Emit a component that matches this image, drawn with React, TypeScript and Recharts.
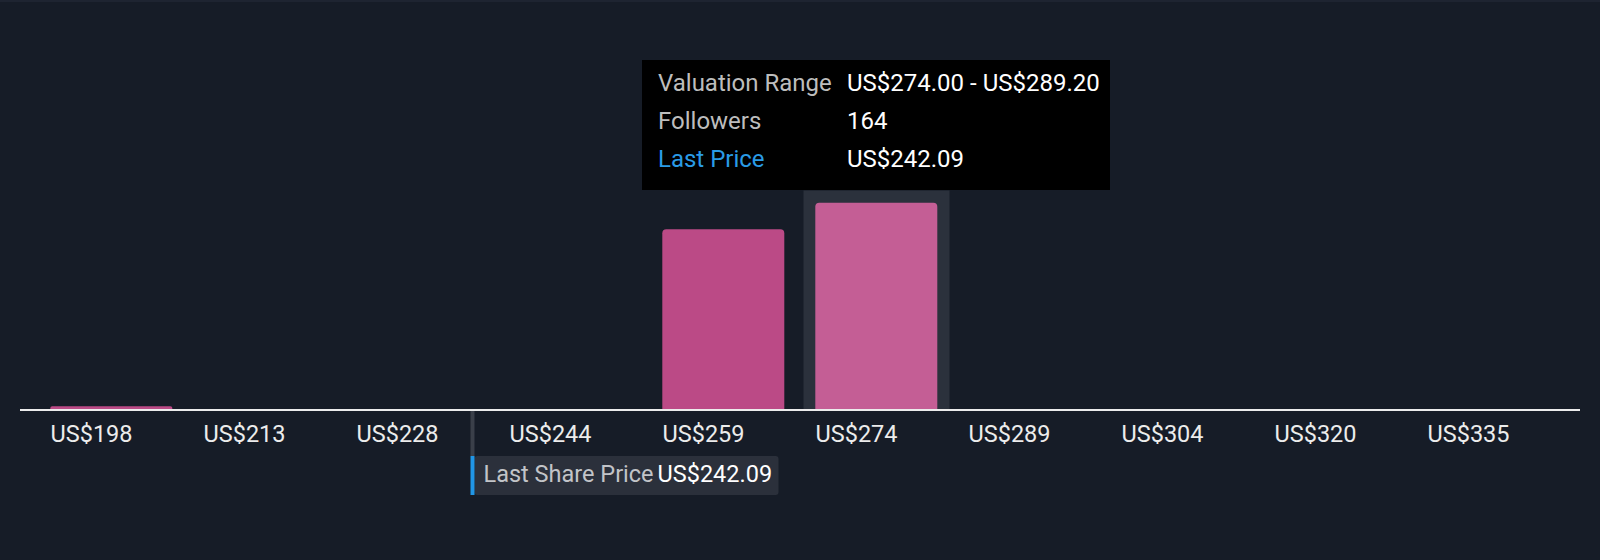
import React from 'react';
import { BarChart, Bar, XAxis, YAxis, Tooltip, Cell, ReferenceLine, Rectangle } from 'recharts';

// valuation bins (lower / upper bound, US$) and how many followers sit in each
const binLow = [198.0, 213.2, 228.4, 243.6, 258.8, 274.0, 289.2, 304.4, 319.6, 334.8];
const binHigh = [213.2, 228.4, 243.6, 258.8, 274.0, 289.2, 304.4, 319.6, 334.8, 350.0];
const followers = [3, 0, 0, 0, 143, 164, 0, 0, 0, 0];
const tickLabels = ['US$198', 'US$213', 'US$228', 'US$244', 'US$259', 'US$274', 'US$289', 'US$304', 'US$320', 'US$335'];

const lastPrice = 242.09;
const activeIndex = 5;

const data = tickLabels.map((label, i) => ({
  label,
  low: binLow[i],
  high: binHigh[i],
  followers: followers[i],
}));

const FONT = 'Roboto, "Noto Sans", sans-serif';
const BG = '#161c27';

const TickLabel = (props: any) => {
  const { x, y, payload } = props;
  return (
    <text x={x - 61} y={y + 32} fill="#ececec" fontSize={23.5} fontFamily={FONT} textAnchor="start">
      {payload.value}
    </text>
  );
};

const CursorRect = (props: any) => {
  const { x, y, width, height } = props;
  return <Rectangle x={x + 3.5} y={y} width={width - 7} height={height} fill="#2b313c" />;
};

const LastPriceLabel = (props: any) => {
  const vb = props.viewBox || {};
  const x = vb.x;
  const base = vb.y + vb.height;
  return (
    <g>
      <rect x={x - 2} y={base + 1} width={4} height={45} fill="#3a3f49" />
      <rect x={x + 2} y={base + 46} width={304} height={39} rx={3} fill="#2b303b" />
      <rect x={x - 2} y={base + 46} width={4} height={39} fill="#2196e6" />
      <text x={x + 11} y={base + 72} fill="#c2c4c8" fontSize={23.5} fontFamily={FONT}>
        Last Share Price
      </text>
      <text x={x + 185} y={base + 72} fill="#ffffff" fontSize={23.5} fontFamily={FONT}>
        US${lastPrice.toFixed(2)}
      </text>
    </g>
  );
};

const TooltipBox = ({ active, payload }: any) => {
  if (!active || !payload || !payload.length) return null;
  const row = payload[0].payload;
  const label = { color: '#bdbdbd' };
  const value = { color: '#ffffff' };
  return (
    <div
      style={{
        background: '#000',
        width: 468,
        height: 130,
        boxSizing: 'border-box',
        padding: '4px 16px 0 16px',
        fontFamily: FONT,
        fontSize: 24,
        lineHeight: '38px',
        display: 'grid',
        gridTemplateColumns: '189px auto',
        alignContent: 'start',
        whiteSpace: 'nowrap',
      }}
    >
      <span style={label}>Valuation Range</span>
      <span style={value}>
        US${row.low.toFixed(2)} - US${row.high.toFixed(2)}
      </span>
      <span style={label}>Followers</span>
      <span style={value}>{row.followers}</span>
      <span style={{ color: '#2a9be6' }}>Last Price</span>
      <span style={value}>US${lastPrice.toFixed(2)}</span>
    </div>
  );
};

export default function App() {
  return (
    <div style={{ position: 'absolute', left: 0, top: 0, width: 1600, height: 560, background: BG }}>
      <div style={{ position: 'absolute', left: 0, top: 0, width: 1600, height: 2, background: '#1e2431' }} />
      <BarChart
        width={1600}
        height={560}
        data={data}
        margin={{ top: 190, right: 20, bottom: 110, left: 20 }}
        barCategoryGap="10%"
      >
        <XAxis
          dataKey="label"
          padding={{ left: 15, right: 15 }}
          axisLine={{ stroke: '#ececec', strokeWidth: 2 }}
          tickLine={false}
          tickSize={0}
          tickMargin={0}
          height={40}
          interval={0}
          tick={<TickLabel />}
        />
        <XAxis xAxisId="price" dataKey="low" type="number" domain={[198, 350]} allowDataOverflow hide />
        <YAxis hide domain={[0, 174]} />
        <Tooltip
          active
          defaultIndex={activeIndex}
          position={{ x: 642, y: 60 }}
          cursor={<CursorRect />}
          content={<TooltipBox />}
          isAnimationActive={false}
          wrapperStyle={{ outline: 'none' }}
        />
        <Bar dataKey="followers" radius={[4, 4, 0, 0]} isAnimationActive={false}>
          {data.map((_, i) => (
            <Cell key={i} fill={i === activeIndex ? '#c45e95' : '#bb4a86'} />
          ))}
        </Bar>
        <ReferenceLine
          xAxisId="price"
          x={lastPrice}
          stroke="none"
          ifOverflow="visible"
          label={(p: any) => <LastPriceLabel {...p} />}
        />
      </BarChart>
    </div>
  );
}
